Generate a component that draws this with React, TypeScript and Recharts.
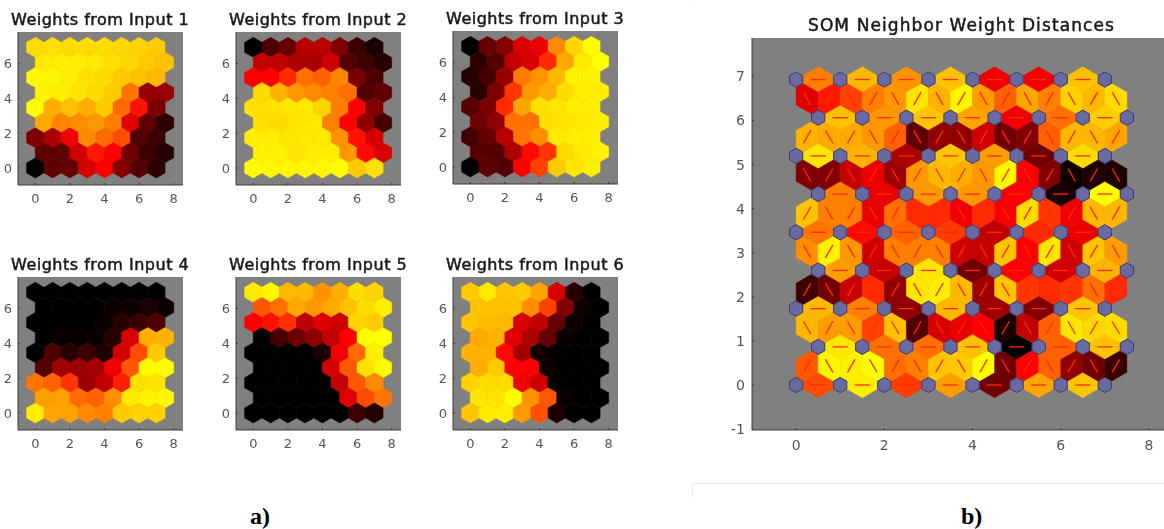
import { CartesianGrid, Scatter, ScatterChart, XAxis, YAxis } from "recharts";

// all values: 0 = black, 50 = red, 100 = yellow
// rows run from the top of the plot (row 8) to the bottom (row 0)
const input1 = [
  [92, 93, 92, 92, 92, 91, 90, 88],
  [95, 96, 96, 95, 93, 91, 88, 86],
  [98, 98, 96, 93, 92, 88, 86, 84],
  [97, 96, 94, 92, 88, 70, 30, 30],
  [99, 82, 86, 82, 88, 68, 52, 24],
  [81, 73, 75, 77, 72, 44, 19, 9],
  [25, 34, 47, 74, 68, 62, 16, 12],
  [19, 19, 41, 53, 50, 22, 12, 7],
  [0, 19, 20, 42, 50, 26, 16, 9],
];
const input2 = [
  [0, 15, 20, 36, 36, 25, 12, 5],
  [38, 38, 34, 33, 41, 16, 12, 8],
  [50, 50, 56, 69, 66, 73, 24, 15],
  [92, 83, 77, 74, 72, 69, 16, 19],
  [93, 93, 94, 95, 90, 72, 50, 25],
  [93, 92, 94, 95, 72, 50, 28, 14],
  [96, 96, 94, 95, 95, 76, 52, 42],
  [97, 97, 94, 96, 96, 77, 51, 42],
  [99, 98, 98, 98, 98, 100, 88, 93],
];
const input3 = [
  [0, 20, 26, 43, 46, 74, 91, 99],
  [9, 17, 38, 43, 56, 81, 95, 100],
  [8, 14, 30, 71, 76, 84, 97, 97],
  [8, 25, 58, 77, 82, 92, 96, 96],
  [17, 24, 56, 80, 93, 94, 96, 96],
  [22, 28, 69, 69, 93, 94, 95, 96],
  [13, 20, 36, 70, 75, 95, 96, 96],
  [17, 16, 34, 51, 58, 92, 95, 97],
  [0, 18, 16, 50, 60, 88, 94, 96],
];
const input4 = [
  [0, 0, 0, 0, 0, 0, 0, 0],
  [0, 0, 0, 0, 3, 3, 5, 3],
  [0, 0, 0, 0, 2, 8, 12, 15],
  [0, 2, 1, 2, 8, 43, 82, 83],
  [0, 15, 8, 12, 6, 42, 62, 88],
  [16, 32, 30, 32, 47, 64, 99, 100],
  [70, 66, 58, 30, 38, 54, 93, 94],
  [79, 79, 68, 66, 75, 95, 97, 98],
  [96, 80, 79, 74, 72, 88, 90, 90],
];
const input5 = [
  [95, 98, 84, 84, 76, 82, 92, 90],
  [64, 69, 81, 77, 81, 86, 92, 96],
  [50, 52, 57, 37, 44, 40, 90, 88],
  [0, 14, 21, 27, 38, 50, 99, 100],
  [0, 0, 0, 0, 5, 47, 68, 96],
  [0, 0, 0, 0, 42, 64, 93, 99],
  [0, 0, 0, 0, 0, 38, 64, 74],
  [0, 0, 0, 0, 0, 44, 62, 70],
  [0, 0, 0, 0, 0, 0, 12, 7],
];
const input6 = [
  [88, 95, 87, 88, 80, 42, 8, 0],
  [86, 86, 86, 75, 60, 26, 3, 0],
  [87, 85, 84, 42, 38, 20, 3, 0],
  [81, 83, 44, 34, 20, 2, 0, 0],
  [83, 83, 51, 32, 4, 0, 0, 0],
  [82, 88, 50, 50, 3, 0, 0, 0],
  [90, 92, 92, 47, 40, 1, 0, 0],
  [94, 94, 100, 76, 64, 2, 0, 0],
  [87, 95, 96, 78, 63, 5, 0, 0],
];

// SOM distances, horizontal links per row, top to bottom
const rowLinks = [
  [72, 84, 76, 86, 47, 48, 86],
  [86, 77, 87, 80, 47, 69, 89],
  [94, 83, 34, 87, 78, 22, 92],
  [72, 46, 77, 77, 50, 5, 100],
  [70, 51, 66, 59, 38, 56, 46],
  [78, 39, 94, 22, 50, 41, 83],
  [84, 72, 28, 84, 31, 25, 87],
  [94, 69, 69, 86, 0, 66, 86],
  [62, 96, 59, 78, 22, 80, 87],
];
// diagonal links between neighbouring rows, top to bottom
const diagLinks = [
  [44, 53, 60, 72, 77, 94, 83, 98, 78, 66, 80, 72, 90, 84, 92],
  [83, 81, 81, 77, 66, 19, 28, 28, 41, 22, 25, 66, 84, 84, 80],
  [25, 25, 39, 46, 31, 77, 84, 82, 77, 98, 50, 25, 3, 6, 6],
  [87, 72, 72, 46, 69, 56, 56, 47, 56, 49, 92, 58, 47, 84, 84],
  [75, 97, 77, 41, 72, 72, 72, 40, 39, 87, 50, 94, 41, 87, 78],
  [12, 22, 39, 56, 28, 94, 96, 84, 31, 87, 58, 56, 58, 69, 56],
  [84, 78, 78, 60, 86, 16, 42, 45, 50, 5, 38, 66, 94, 91, 92],
  [64, 98, 96, 100, 69, 72, 87, 88, 100, 22, 50, 66, 28, 22, 12],
];

const panels = [
  { title: "Weights from Input 1", rows: input1, left: 18, top: 32, titleX: 11 },
  { title: "Weights from Input 2", rows: input2, left: 236, top: 32, titleX: 229 },
  { title: "Weights from Input 3", rows: input3, left: 453, top: 31, titleX: 446 },
  { title: "Weights from Input 4", rows: input4, left: 18, top: 277, titleX: 11 },
  { title: "Weights from Input 5", rows: input5, left: 236, top: 277, titleX: 229 },
  { title: "Weights from Input 6", rows: input6, left: 453, top: 277, titleX: 446 },
];

const smallXTicks = [0, 2, 4, 6, 8];
const smallYTicks = [0, 2, 4, 6];
const bigXTicks = [0, 2, 4, 6, 8];
const bigYTicks = [-1, 0, 1, 2, 3, 4, 5, 6, 7];

const ROW = Math.sqrt(3) / 2;
const LABEL = "#565656";
const EDGE = "#3c3c3c";
const FONT = "'DejaVu Sans', sans-serif";

function hot(v: number) {
  if (v <= 50) return `rgb(${Math.round((v / 50) * 255)},0,0)`;
  return `rgb(255,${Math.round(Math.pow((v - 50) / 50, 0.85) * 255)},0)`;
}

function weightCells(rows: number[][]) {
  return rows.flatMap((row, i) => {
    const r = 8 - i;
    return row.map((v, c) => ({ x: c + (r % 2 ? 0.5 : 0), y: r * ROW, v }));
  });
}

const neurons = rowLinks.flatMap((_, i) => {
  const r = 8 - i;
  return Array.from({ length: 8 }, (_, c) => ({ x: c + (r % 2 ? 0.5 : 0), y: r * ROW }));
});

const links = [
  ...rowLinks.flatMap((row, i) => {
    const r = 8 - i;
    return row.map((v, c) => ({ x: c + (r % 2 ? 1 : 0.5), y: r * ROW, v, angle: 0 }));
  }),
  ...diagLinks.flatMap((row, i) => {
    const k = 7 - i;
    return row.map((v, c) => ({
      x: 0.25 + c * 0.5,
      y: (k + 0.5) * ROW,
      v,
      angle: (k + c) % 2 === 0 ? -60 : 60,
    }));
  }),
];

function Hex(props: any) {
  const { cx, cy, payload } = props;
  const w = 8.7;
  const r = 10;
  const pts = [
    [0, -r],
    [w, -r / 2],
    [w, r / 2],
    [0, r],
    [-w, r / 2],
    [-w, -r / 2],
  ]
    .map((p) => `${cx + p[0]},${cy + p[1]}`)
    .join(" ");
  const c = hot(payload.v);
  return <polygon points={pts} fill={c} stroke={c} strokeWidth={0.5} />;
}

function LinkCell(props: any) {
  const { cx, cy, payload } = props;
  const a = (payload.angle * Math.PI) / 180;
  const rot = (x: number, y: number) => [
    cx + x * Math.cos(a) - y * Math.sin(a),
    cy + x * Math.sin(a) + y * Math.cos(a),
  ];
  const pts = [
    [15, 4],
    [0, 12.7],
    [-15, 4],
    [-15, -4],
    [0, -12.7],
    [15, -4],
  ]
    .map((p) => rot(p[0], p[1]).join(","))
    .join(" ");
  const c = hot(payload.v);
  const [x1, y1] = rot(-7.5, 0);
  const [x2, y2] = rot(7.5, 0);
  return (
    <g>
      <polygon points={pts} fill={c} stroke={c} strokeWidth={0.5} />
      <line x1={x1} y1={y1} x2={x2} y2={y2} stroke="#ff2a00" strokeWidth={1.3} />
    </g>
  );
}

function Neuron(props: any) {
  const { cx, cy } = props;
  const w = 6.6;
  const r = 7.6;
  const pts = [
    [0, -r],
    [w, -r / 2],
    [w, r / 2],
    [0, r],
    [-w, r / 2],
    [-w, -r / 2],
  ]
    .map((p) => `${cx + p[0]},${cy + p[1]}`)
    .join(" ");
  return <polygon points={pts} fill="#6a6aa3" stroke="#3d3d6e" strokeWidth={1} />;
}

function WeightPanel({ rows, left, top }: { rows: number[][]; left: number; top: number }) {
  const data = weightCells(rows);
  return (
    <div style={{ position: "absolute", left: left - 30, top }}>
      <ScatterChart width={200} height={153 + 32} margin={{ top: 0, right: 5, bottom: 0, left: 0 }}>
        <CartesianGrid fill="#808080" horizontal={false} vertical={false} />
        <XAxis
          type="number"
          dataKey="x"
          domain={[-1, 8.54]}
          ticks={smallXTicks}
          height={32}
          tickSize={-2}
          tickMargin={11}
          stroke={EDGE}
          tick={{ fill: LABEL, fontSize: 13, fontFamily: FONT }}
          allowDataOverflow
        />
        <XAxis xAxisId="top" orientation="top" type="number" domain={[-1, 8.54]} ticks={smallXTicks} height={0} tickSize={-2} tick={false} stroke={EDGE} />
        <YAxis
          type="number"
          dataKey="y"
          domain={[-0.98, 7.81]}
          ticks={smallYTicks}
          width={30}
          tickSize={-2}
          tickMargin={8}
          stroke={EDGE}
          tick={{ fill: LABEL, fontSize: 13, fontFamily: FONT }}
          allowDataOverflow
        />
        <YAxis yAxisId="right" orientation="right" type="number" domain={[-0.98, 7.81]} ticks={smallYTicks} width={0} tickSize={-2} tick={false} stroke={EDGE} />
        <Scatter data={data} shape={<Hex />} isAnimationActive={false} />
      </ScatterChart>
    </div>
  );
}

function DistancePanel() {
  return (
    <div style={{ position: "absolute", left: 712, top: 38 }}>
      <ScatterChart width={460} height={392 + 40} margin={{ top: 0, right: 1, bottom: 0, left: 0 }}>
        <CartesianGrid fill="#808080" horizontal={false} vertical={false} />
        <XAxis
          type="number"
          dataKey="x"
          domain={[-1, 8.5]}
          ticks={bigXTicks}
          height={40}
          tickSize={-2}
          tickMargin={12}
          stroke={EDGE}
          tick={{ fill: LABEL, fontSize: 14, fontFamily: FONT }}
          allowDataOverflow
        />
        <XAxis xAxisId="top" orientation="top" type="number" domain={[-1, 8.5]} ticks={bigXTicks} height={0} tickSize={-2} tick={false} stroke={EDGE} />
        <YAxis
          type="number"
          dataKey="y"
          domain={[-1.02, 7.87]}
          ticks={bigYTicks}
          width={40}
          tickSize={-2}
          tickMargin={9}
          stroke={EDGE}
          tick={{ fill: LABEL, fontSize: 14, fontFamily: FONT }}
          allowDataOverflow
        />
        <Scatter data={links} shape={<LinkCell />} isAnimationActive={false} />
        <Scatter data={neurons} shape={<Neuron />} isAnimationActive={false} />
      </ScatterChart>
    </div>
  );
}

const titleStyle = {
  position: "absolute",
  fontFamily: FONT,
  fontWeight: 400,
  color: "#1a1a1a",
  whiteSpace: "nowrap",
  WebkitTextStroke: "0.5px #1a1a1a",
} as const;

const captionStyle = {
  position: "absolute",
  fontFamily: "'Liberation Serif', serif",
  fontWeight: 700,
  fontSize: 24,
  color: "#000",
} as const;

export default function App() {
  return (
    <div style={{ position: "absolute", left: 0, top: 0, width: 1164, height: 529, overflow: "hidden", background: "#fff" }}>
      <div style={{ position: "absolute", inset: 0, filter: "blur(0.5px)" }}>
        {panels.map((p) => (
          <div key={p.title}>
            <div style={{ ...titleStyle, left: p.titleX, top: p.top - 22, fontSize: 16, letterSpacing: 0.5 }}>{p.title}</div>
            <WeightPanel rows={p.rows} left={p.left} top={p.top} />
          </div>
        ))}
        <div style={{ ...titleStyle, left: 808, top: 15, fontSize: 17, letterSpacing: 1.1 }}>SOM Neighbor Weight Distances</div>
        <DistancePanel />
      </div>
      <div style={{ position: "absolute", left: 692, top: 0, width: 1, height: 2, background: "#ececec" }} />
      <div style={{ position: "absolute", left: 692, top: 483, width: 472, height: 1, background: "#ececec" }} />
      <div style={{ position: "absolute", left: 692, top: 483, width: 1, height: 15, background: "#ececec" }} />
      <div style={{ ...captionStyle, left: 250, top: 503 }}>a)</div>
      <div style={{ ...captionStyle, left: 961, top: 503 }}>b)</div>
    </div>
  );
}
